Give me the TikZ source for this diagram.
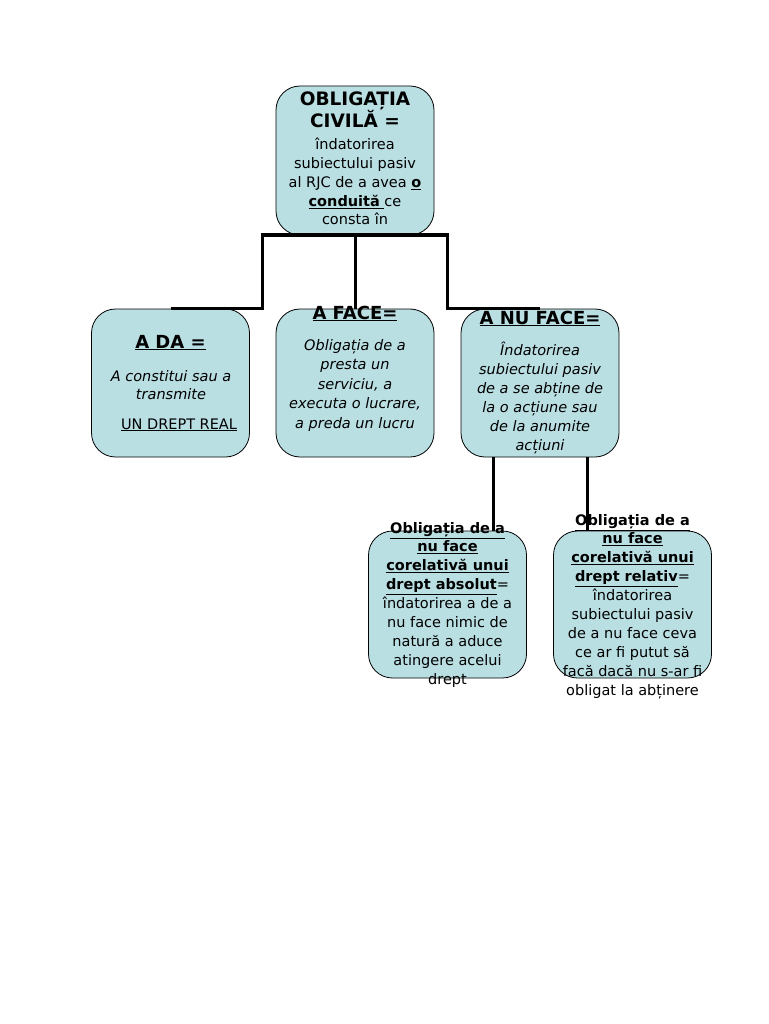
\documentclass[tikz,border=0pt]{standalone}
\usepackage{fontspec}
\setmainfont{DejaVu Sans}
\usetikzlibrary{calc}
\definecolor{boxfill}{RGB}{186,223,227}
\begin{document}
\begin{tikzpicture}[x=1pt,y=-1pt,
 box/.style={draw=black,line width=0.8pt,fill=boxfill,rounded corners=24pt,minimum width=158pt,minimum height=148pt,inner sep=0pt},
 conn/.style={line width=3pt},
 txt/.style={align=center,inner sep=0pt,anchor=base},
 head/.style={txt,font=\fontsize{18}{20}\selectfont\bfseries},
 body/.style={txt,font=\fontsize{14.5}{18.9}\selectfont},
 ibody/.style={txt,font=\fontsize{14.5}{19.5}\selectfont\itshape}]
\useasboundingbox (0,0) rectangle (768,1024);
% boxes
\node[box,minimum height=149pt] (top) at (355,160.5) {};
\node[box] (ada) at (170.5,383) {};
\node[box] (aface) at (355,383) {};
\node[box] (anuface) at (540,383) {};
\node[box,minimum height=147pt] (bl) at (447.5,604.5) {};
\node[box,minimum height=147pt] (br) at (632.5,604.5) {};
% connectors
\coordinate (jl) at (262,235);
\coordinate (jr) at (447,235);
\draw[conn] (ada.north) -| (jl) -- (jr) |- (anuface.north);
\draw[conn] (top.south) -- (aface.north);
\draw[conn] ($(anuface.south)+(-47,0)$) -- ($(bl.north)+(45.5,0)$);
\draw[conn] ($(anuface.south)+(47,0)$) -- ($(br.north)+(-45.5,0)$);
% texts (base anchor = baseline of the last line)
\node[head,font=\fontsize{18.5}{20.5}\selectfont\bfseries] (tophead) at (355,128) {OBLIGAȚIA\\CIVILĂ =};
\node[body,font=\fontsize{14.5}{18.75}\selectfont] (topbody) at (355,225) {îndatorirea\\subiectului pasiv\\al RJC de a avea \underline{\textbf{o}}\\\underline{\textbf{conduită} }ce\\consta în};
\node[head] (adahead) at (170.5,348) {\underline{A DA =}};
\node[ibody,font=\fontsize{14.5}{18.5}\selectfont\itshape] (adabody) at (171,399.5) {A constitui sau a\\transmite};
\node[txt,font=\fontsize{14.5}{18}\selectfont] (adareal) at (179,429) {\underline{UN DREPT REAL}};
\node[head] (afacehead) at (355,319) {\underline{A FACE=}};
\node[ibody] (afacebody) at (355,428) {Obligația de a\\presta un\\serviciu, a\\executa o lucrare,\\a preda un lucru};
\node[head] (anufacehead) at (540,324) {\underline{A NU FACE=}};
\node[ibody,font=\fontsize{14.5}{19}\selectfont\itshape] (anufacebody) at (540,450) {Îndatorirea\\subiectului pasiv\\de a se abține de\\la o acțiune sau\\de la anumite\\acțiuni};
\node[body] (bltext) at (447.5,684.2) {\underline{\textbf{Obligația de a}}\\\underline{\textbf{nu face}}\\\underline{\textbf{corelativă unui}}\\\underline{\textbf{drept absolut}}=\\îndatorirea a de a\\nu face nimic de\\natură a aduce\\atingere acelui\\drept};
\node[body] (brtext) at (632.5,695.1) {\underline{\textbf{Obligația de a}}\\\underline{\textbf{nu face}}\\\underline{\textbf{corelativă unui}}\\\underline{\textbf{drept relativ}}=\\îndatorirea\\subiectului pasiv\\de a nu face ceva\\ce ar fi putut să\\facă dacă nu s-ar fi\\obligat la abținere};
\end{tikzpicture}
\end{document}
